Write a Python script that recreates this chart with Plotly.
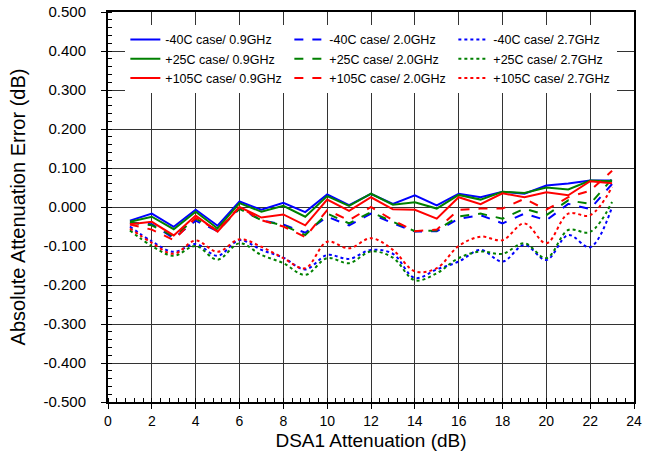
import plotly.graph_objects as go

atten = list(range(1, 24))

m40_09 = [-0.035, -0.017, -0.051, -0.007, -0.048, 0.014, -0.007, 0.011, -0.013, 0.032, 0.005, 0.034,
          0.008, 0.030, 0.004, 0.034, 0.025, 0.039, 0.034, 0.055, 0.060, 0.068, 0.068]
p25_09 = [-0.038, -0.025, -0.057, -0.012, -0.055, 0.010, -0.012, 0.003, -0.025, 0.028, 0.003, 0.034,
          0.006, 0.012, -0.004, 0.031, 0.019, 0.039, 0.036, 0.050, 0.045, 0.068, 0.066]
p105_09 = [-0.044, -0.038, -0.073, -0.022, -0.063, 0.000, -0.027, -0.019, -0.047, 0.019, -0.010, 0.025,
           -0.006, -0.007, -0.030, 0.025, 0.007, 0.035, 0.025, 0.038, 0.030, 0.066, 0.061]

m40_20 = [-0.040, -0.044, -0.080, -0.035, -0.062, -0.003, -0.034, -0.045, -0.066, -0.025, -0.047, -0.017,
          -0.042, -0.063, -0.062, -0.030, -0.021, -0.042, -0.017, -0.034, 0.008, -0.005, 0.059]
p25_20 = [-0.040, -0.047, -0.075, -0.030, -0.060, -0.005, -0.034, -0.047, -0.072, -0.017, -0.042, -0.013,
          -0.038, -0.062, -0.060, -0.024, -0.017, -0.030, -0.004, -0.021, 0.017, 0.008, 0.072]
p105_20 = [-0.045, -0.058, -0.085, -0.028, -0.060, 0.000, -0.034, -0.050, -0.077, -0.008, -0.034, 0.000,
           -0.034, -0.062, -0.058, -0.007, -0.004, -0.004, 0.021, -0.007, 0.025, 0.042, 0.093]

m40_27 = [-0.050, -0.088, -0.115, -0.095, -0.125, -0.085, -0.110, -0.130, -0.160, -0.123, -0.133, -0.110,
          -0.120, -0.182, -0.160, -0.140, -0.110, -0.140, -0.097, -0.136, -0.072, -0.103, 0.000]
p25_27 = [-0.060, -0.100, -0.125, -0.100, -0.135, -0.093, -0.123, -0.144, -0.174, -0.131, -0.144, -0.114,
          -0.130, -0.188, -0.170, -0.131, -0.114, -0.120, -0.093, -0.131, -0.059, -0.064, 0.013]
p105_27 = [-0.055, -0.092, -0.120, -0.086, -0.115, -0.083, -0.102, -0.131, -0.157, -0.089, -0.106, -0.080,
           -0.110, -0.165, -0.157, -0.100, -0.076, -0.085, -0.042, -0.093, -0.017, -0.021, 0.051]

x_ticks = list(range(0, 25, 2))
y_ticks = [-0.5, -0.4, -0.3, -0.2, -0.1, 0.0, 0.1, 0.2, 0.3, 0.4, 0.5]
y_tick_text = ["%.3f" % v for v in y_ticks]

BLUE, GREEN, RED = "#0000ff", "#008000", "#ff0000"

series = [
    ("-40C case/ 0.9GHz", m40_09, BLUE, "solid"),
    ("-40C case/ 2.0GHz", m40_20, BLUE, "dash"),
    ("-40C case/ 2.7GHz", m40_27, BLUE, "dot"),
    ("+25C case/ 0.9GHz", p25_09, GREEN, "solid"),
    ("+25C case/ 2.0GHz", p25_20, GREEN, "dash"),
    ("+25C case/ 2.7GHz", p25_27, GREEN, "dot"),
    ("+105C case/ 0.9GHz", p105_09, RED, "solid"),
    ("+105C case/ 2.0GHz", p105_20, RED, "dash"),
    ("+105C case/ 2.7GHz", p105_27, RED, "dot"),
]

fig = go.Figure()
for name, vals, col, dash in series:
    shape = "spline" if dash == "dot" else "linear"
    fig.add_trace(go.Scatter(
        x=atten, y=vals, name=name, mode="lines",
        line=dict(color=col, width=2, dash=dash, shape=shape, smoothing=1.0),
    ))

FONT = "Liberation Sans, Arial, sans-serif"
fig.update_layout(
    width=652, height=463,
    margin=dict(l=108, r=18, t=12, b=61),
    paper_bgcolor="white", plot_bgcolor="white",
    font=dict(family=FONT, color="black", size=14),
    showlegend=True,
    legend=dict(
        orientation="h", x=0.033, y=0.967, xanchor="left", yanchor="top",
        entrywidth=119, entrywidthmode="pixels",
        bgcolor="white", borderwidth=0,
        font=dict(family=FONT, size=12.5, color="black"),
        tracegroupgap=0, itemwidth=30,
    ),
)
fig.update_xaxes(
    range=[0, 24], tickvals=x_ticks, ticktext=[str(v) for v in x_ticks],
    showgrid=True, gridcolor="#333", gridwidth=1,
    showline=True, linecolor="black", linewidth=2, mirror=True,
    ticks="outside", ticklen=5, tickcolor="black", tickwidth=1,
    minor=dict(dtick=0.4, tick0=0, ticks="inside", ticklen=4, tickcolor="black", showgrid=False),
    zeroline=False, automargin=False,
    title=dict(text="DSA1 Attenuation (dB)", font=dict(size=19), standoff=6),
    tickfont=dict(size=14),
)
fig.update_yaxes(
    range=[-0.5, 0.5], tickvals=y_ticks, ticktext=y_tick_text,
    showgrid=True, gridcolor="#333", gridwidth=1,
    showline=True, linecolor="black", linewidth=2, mirror=True,
    ticks="outside", ticklen=5, tickcolor="black", tickwidth=1,
    minor=dict(dtick=0.02, tick0=0, ticks="inside", ticklen=4, tickcolor="black", showgrid=False),
    zeroline=False, automargin=False,
    ticklabelstandoff=12,
    title=dict(text="Absolute Attenuation Error (dB)", font=dict(size=20), standoff=12),
    tickfont=dict(size=15),
)

fig.write_html("out.html")
